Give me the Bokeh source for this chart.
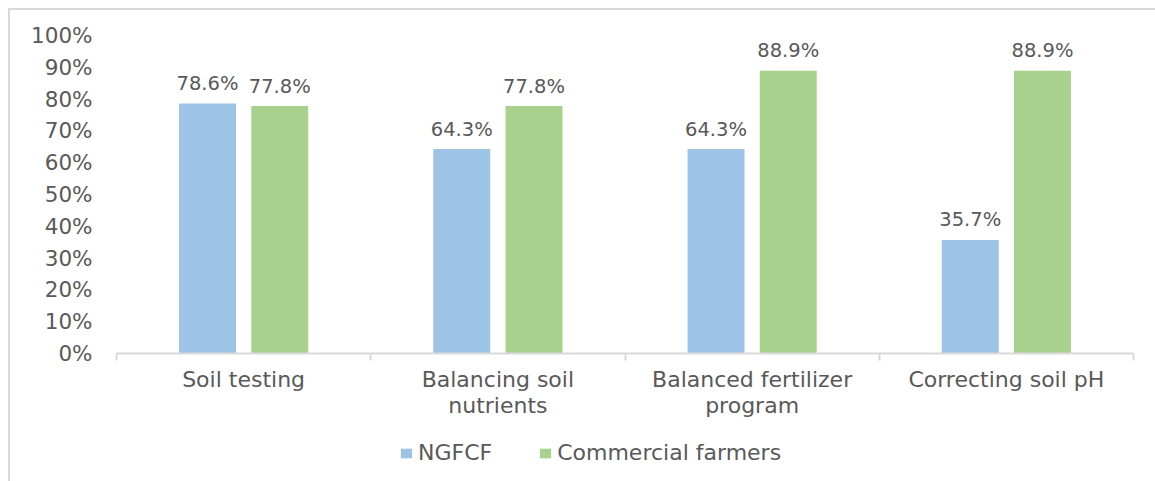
from bokeh.plotting import figure
from bokeh.layouts import column
from bokeh.models import (Range1d, FixedTicker, Legend, LegendItem, ColumnDataSource)
from bokeh.transform import dodge
from bokeh.core.properties import value
from bokeh.embed import file_html
from bokeh.resources import INLINE

# ---- data ----
categories = ["Soil testing", "Balancing soil\nnutrients",
              "Balanced fertilizer\nprogram", "Correcting soil pH"]
ngfcf = [78.6, 64.3, 64.3, 35.7]
commercial = [77.8, 77.8, 88.9, 88.9]
series_names = ["NGFCF", "Commercial farmers"]
y_ticks = [0, 10, 20, 30, 40, 50, 60, 70, 80, 90, 100]
y_tick_labels = ["0%", "10%", "20%", "30%", "40%", "50%", "60%", "70%", "80%", "90%", "100%"]

colors = ["#9DC3E6", "#A9D18E"]
text_color = "#595959"
axis_color = "#D9D9D9"
FONT = "DejaVu Sans"

centers = [i + 0.5 for i in range(len(categories))]
bounds = [i for i in range(len(categories) + 1)]

src = ColumnDataSource(dict(
    x=centers,
    ngfcf=ngfcf,
    commercial=commercial,
    ngfcf_lbl=[f"{v:.1f}%" for v in ngfcf],
    commercial_lbl=[f"{v:.1f}%" for v in commercial],
))

OFF = 10          # canvas offset inside the outer light-grey border
W = 1155 - OFF
H_MAIN = 413
H_LEG = 481 - OFF - H_MAIN
FRAME_LEFT = 116  # page x of the plot frame's left edge

p = figure(width=W, height=H_MAIN, output_backend="svg", toolbar_location=None,
           x_range=Range1d(0, len(categories)), y_range=Range1d(0, 100),
           min_border_left=FRAME_LEFT - OFF, min_border_right=22, min_border_top=35 - OFF,
           min_border_bottom=H_MAIN - (353 - OFF))
p.outline_line_color = None
p.xgrid.visible = False
p.ygrid.visible = False
p.background_fill_color = "white"
p.border_fill_color = "white"

off = 0.142
bw = 0.224
r1 = p.vbar(x=dodge("x", -off, range=p.x_range), top="ngfcf", width=bw, source=src,
            fill_color=colors[0], line_color=None)
r2 = p.vbar(x=dodge("x", off, range=p.x_range), top="commercial", width=bw, source=src,
            fill_color=colors[1], line_color=None)

for col, lbl, d in (("ngfcf", "ngfcf_lbl", -off), ("commercial", "commercial_lbl", off)):
    p.text(x=dodge("x", d, range=p.x_range), y=col, text=lbl, source=src,
           text_font=value(FONT), text_font_size="19.5px", text_color=text_color,
           text_align="center", text_baseline="alphabetic", y_offset=-20)

# y axis
ya = p.yaxis[0]
ya.ticker = FixedTicker(ticks=y_ticks)
ya.major_label_overrides = {t: l for t, l in zip(y_ticks, y_tick_labels)}
ya.axis_line_color = None
ya.major_tick_line_color = None
ya.minor_tick_line_color = None
ya.major_tick_out = 0
ya.major_label_standoff = 24
ya.major_label_text_font = FONT
ya.major_label_text_font_size = "21.5px"
ya.major_label_text_color = text_color

# x axis
xa = p.xaxis[0]
xa.ticker = FixedTicker(ticks=centers, minor_ticks=bounds)
xa.major_label_overrides = {c: l for c, l in zip(centers, categories)}
xa.axis_line_color = axis_color
xa.axis_line_width = 2
xa.major_tick_line_color = None
xa.major_tick_out = 0
xa.major_tick_in = 0
xa.minor_tick_line_color = axis_color
xa.minor_tick_line_width = 2
xa.minor_tick_out = 7
xa.minor_tick_in = 0
xa.major_label_standoff = 6
xa.major_label_text_font = FONT
xa.major_label_text_font_size = "22px"
xa.major_label_text_line_height = 1.05
xa.major_label_text_color = text_color

# ---- legend strip (zero-size proxy bars out of view; only the legend shows) ----
q = figure(width=W, height=H_LEG, output_backend="svg", toolbar_location=None,
           x_axis_location=None, y_axis_location=None,
           x_range=Range1d(0, len(categories)), y_range=Range1d(-2, -1),
           min_border=0)
q.outline_line_color = None
q.xgrid.visible = False
q.ygrid.visible = False
q.background_fill_color = "white"
q.border_fill_color = "white"
l1 = q.vbar(x="x", top="ngfcf", bottom="ngfcf", width=0, source=src,
            fill_color=colors[0], line_color=None)
l2 = q.vbar(x="x", top="commercial", bottom="commercial", width=0, source=src,
            fill_color=colors[1], line_color=None)

legend = Legend(items=[LegendItem(label=series_names[0], renderers=[l1]),
                       LegendItem(label=series_names[1], renderers=[l2])],
                orientation="horizontal",
                location=(399 - FRAME_LEFT, H_LEG - (465 - OFF - H_MAIN)),
                glyph_width=14, glyph_height=12, label_standoff=5, spacing=46,
                padding=0, margin=0, border_line_color=None,
                background_fill_alpha=0,
                label_text_font=FONT, label_text_font_size="22px",
                label_text_color=text_color)
q.add_layout(legend, "center")

layout = column(p, q, spacing=0, margin=(8, 0, 0, 8),
                styles={"border-left": f"2px solid {axis_color}",
                        "border-top": f"2px solid {axis_color}"})

open("out.html", "w").write(file_html(layout, INLINE))
